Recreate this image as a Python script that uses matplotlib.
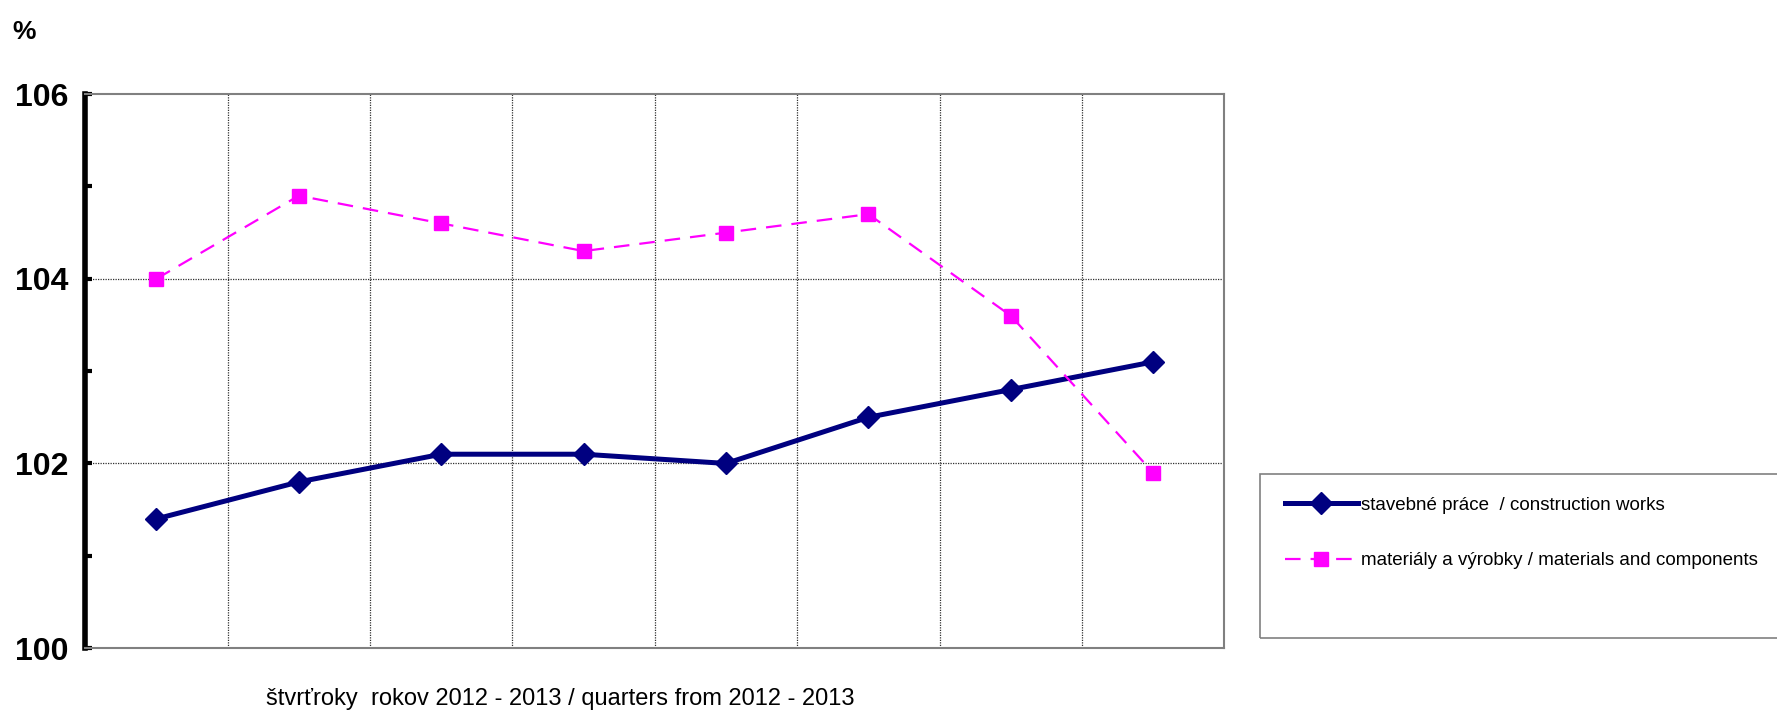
import matplotlib.pyplot as plt
from matplotlib.patches import Rectangle

# quarters 2012 - 2013 (no tick labels on the original)
quarters = ["Q1 2012", "Q2 2012", "Q3 2012", "Q4 2012",
            "Q1 2013", "Q2 2013", "Q3 2013", "Q4 2013"]
construction = [101.4, 101.8, 102.1, 102.1, 102.0, 102.5, 102.8, 103.1]
materials = [104.0, 104.9, 104.6, 104.3, 104.5, 104.7, 103.6, 101.9]
name_construction = "stavebné práce  / construction works"
name_materials = "materiály a výrobky / materials and components"
xlabel = "štvrťroky  rokov 2012 - 2013 / quarters from 2012 - 2013"

plt.rcParams['font.family'] = ['Liberation Sans', 'DejaVu Sans']

fig = plt.figure(figsize=(17.77, 7.13), dpi=100)
ax = fig.add_axes([0.048, 0.091, 0.641, 0.777])

x = list(range(len(quarters)))
l1, = ax.plot(x, construction, color='#000080', lw=3.6, marker='D', ms=11,
              label=name_construction)
l2, = ax.plot(x, materials, color='#FF00FF', lw=1.6, ls=(0, (7, 4.5)), marker='s',
              ms=10.5, label=name_materials)

ax.set_xlim(-0.5, len(quarters) - 0.5)
ax.set_ylim(100, 106)
ax.set_yticks([100, 102, 104, 106])
ax.set_yticks([101, 103, 105], minor=True)
ax.set_xticks([i + 0.5 for i in range(len(quarters) - 1)])
ax.set_xticklabels([])
ax.tick_params(axis='x', length=0)
ax.tick_params(axis='y', which='both', direction='in', length=5, width=3, pad=12)
for lab in ax.get_yticklabels():
    lab.set_fontsize(23)
    lab.set_fontweight('bold')

# dotted grid inside the plot area
for yv in [102, 104]:
    ax.axhline(yv, color='#303030', lw=0.9, ls=(0, (1, 1)), zorder=0)
for xv in ax.get_xticks():
    ax.axvline(xv, color='#303030', lw=0.9, ls=(0, (1, 1)), zorder=0)

for s in ['top', 'right', 'bottom']:
    ax.spines[s].set_color('#808080')
    ax.spines[s].set_linewidth(1.5)
ax.spines['left'].set_linewidth(4)
ax.spines['left'].set_color('black')

fig.text(0.007, 0.955, "%", fontsize=19, fontweight='bold', va='center')
fig.text(0.315, 0.02, xlabel, fontsize=17, ha='center', va='center')

# legend box
fig.patches.append(Rectangle((1260 / 1777, 1 - 638 / 713), 0.35, 164 / 713,
                             transform=fig.transFigure, fill=False,
                             edgecolor='#808080', lw=1.2))
fig.legend(handles=[l1, l2], loc='upper left',
           bbox_to_anchor=(1277 / 1777, 1 - 489 / 713), frameon=False,
           fontsize=13.5, handlelength=3.9, labelspacing=2.05, handletextpad=0.2,
           borderaxespad=0)

fig.savefig("out.png", dpi=100)
